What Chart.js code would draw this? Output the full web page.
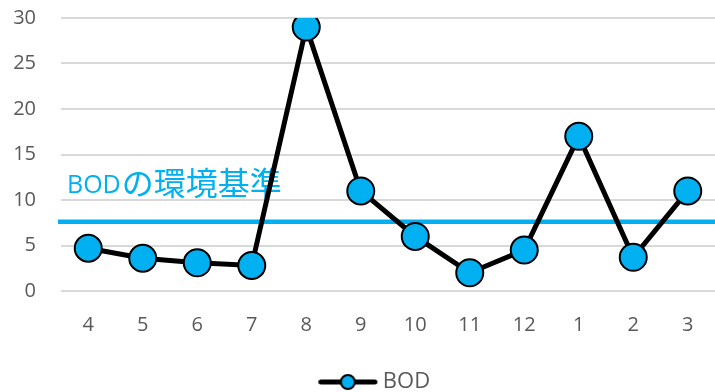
<!DOCTYPE html>
<html>
<head>
<meta charset="utf-8">
<script src="https://cdn.jsdelivr.net/npm/chart.js@4/dist/chart.umd.min.js"></script>
<style>
html,body{margin:0;padding:0;background:#fff;overflow:hidden;}
#wrap{width:715px;height:392px;overflow:hidden;}
canvas{display:block;}
</style>
</head>
<body>
<div id="wrap"><canvas id="c" width="715" height="392"></canvas></div>
<script>
const months = ["4","5","6","7","8","9","10","11","12","1","2","3"];
const bodValues = [4.7, 3.6, 3.1, 2.8, 29, 11, 6, 2, 4.5, 17, 3.7, 11];
const seriesName = "BOD";
const standardValue = 7.6;
const standardLabelLatin = "BOD";
const standardLabelJa = "の環境基準";
const yTicks = [0, 5, 10, 15, 20, 25, 30];

const CYAN = "#00b0f0";
const GREY = "#595959";

// legend icon: line with marker (drawn in the right part of a wider transparent canvas)
const icon = document.createElement("canvas");
icon.width = 100; icon.height = 18;
(function(){
  const g = icon.getContext("2d");
  const cx = 69.5;
  g.strokeStyle = "#000"; g.lineWidth = 5; g.lineCap = "round";
  g.beginPath(); g.moveTo(cx - 27, 9); g.lineTo(cx + 27, 9); g.stroke();
  g.beginPath(); g.arc(cx, 9, 7, 0, Math.PI*2);
  g.fillStyle = CYAN; g.fill();
  g.lineWidth = 2; g.stroke();
})();

const standardPlugin = {
  id: "standardLine",
  beforeDatasetsDraw(chart) {
    const {ctx, chartArea} = chart;
    const y = chart.scales.y.getPixelForValue(standardValue);
    ctx.save();
    ctx.strokeStyle = CYAN;
    ctx.lineWidth = 4.5;
    ctx.beginPath();
    ctx.moveTo(chartArea.left - 3, y);
    ctx.lineTo(chartArea.right, y);
    ctx.stroke();
    const yText = y - 29;
    ctx.fillStyle = CYAN;
    ctx.textBaseline = "alphabetic";
    ctx.textAlign = "left";
    ctx.font = "25px 'Open Sans'";
    const x0 = chartArea.left + 6;
    ctx.fillText(standardLabelLatin, x0, yText);
    const w = ctx.measureText(standardLabelLatin).width;
    ctx.font = "32px 'Noto Sans CJK JP'";
    ctx.fillText(standardLabelJa, x0 + w + 1, yText + 2);
    ctx.restore();
  }
};

new Chart(document.getElementById("c"), {
  type: "line",
  data: {
    labels: months,
    datasets: [{
      label: seriesName,
      data: bodValues,
      borderColor: "#000",
      borderWidth: 5,
      backgroundColor: CYAN,
      pointBackgroundColor: CYAN,
      pointBorderColor: "#000",
      pointBorderWidth: 2,
      pointRadius: 13.5,
      pointHoverRadius: 13.5,
      tension: 0,
      fill: false
    }]
  },
  options: {
    responsive: false,
    animation: false,
    devicePixelRatio: 1,
    layout: { autoPadding: false, padding: { top: 18, right: 0, left: 0, bottom: -11 } },
    plugins: {
      tooltip: { enabled: false },
      legend: {
        position: "bottom",
        labels: {
          usePointStyle: true,
          pointStyleWidth: 87,
          boxWidth: 87,
          boxHeight: 18,
          padding: 0,
          color: GREY,
          font: { family: "'Open Sans'", size: 22 },
          generateLabels(chart) {
            return [{
              text: seriesName,
              pointStyle: icon,
              fillStyle: CYAN,
              strokeStyle: "#000",
              lineWidth: 0,
              fontColor: GREY,
              hidden: false,
              datasetIndex: 0
            }];
          }
        }
      }
    },
    scales: {
      x: {
        offset: true,
        grid: { display: false, drawTicks: false },
        border: { display: false },
        ticks: { color: GREY, font: { family: "'Open Sans'", size: 20 }, padding: 22, maxRotation: 0 },
        afterFit(scale) { scale.height = 80; scale.paddingLeft = 0; scale.paddingRight = 0; }
      },
      y: {
        min: 0, max: 30,
        afterBuildTicks(scale) { scale.ticks = yTicks.map(v => ({value: v})); },
        grid: { color: "#d9d9d9", lineWidth: 2, drawTicks: false },
        border: { display: false },
        ticks: { color: GREY, font: { family: "'Open Sans'", size: 20 }, padding: 25 },
        afterFit(scale) { scale.width = 61; scale.paddingTop = 0; scale.paddingBottom = 0; }
      }
    }
  },
  plugins: [standardPlugin]
});
</script>
</body>
</html>
